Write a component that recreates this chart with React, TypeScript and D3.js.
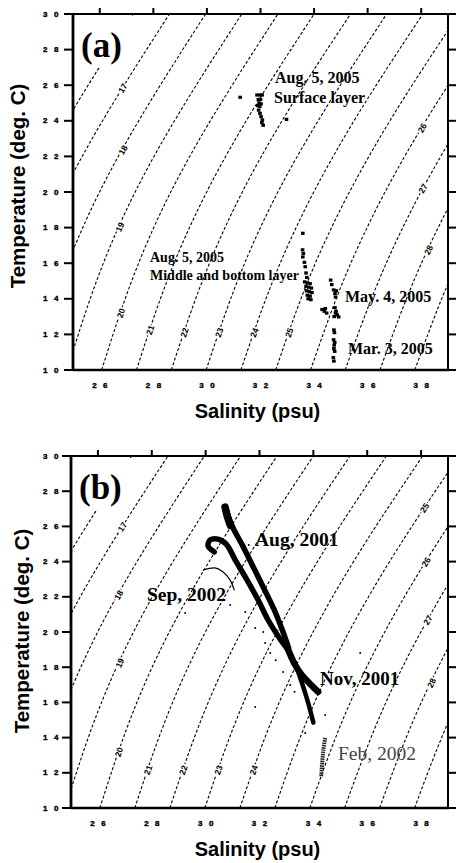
import React from 'react';
import * as d3 from 'd3';

const width = 457;
const height = 863;

const salinityTicks = [26, 28, 30, 32, 34, 36, 38];
const tempTicks = [10, 12, 14, 16, 18, 20, 22, 24, 26, 28, 30];

// sigma-t isopycnals: salinity at these temperatures
const isoTemps = [10, 15, 20, 25, 30];
const isoLevels = [16, 17, 18, 19, 20, 21, 22, 23, 24, 25, 26, 27, 28, 29];
const isoSalinity = [
  [20.88, 21.93, 23.32, 25.16, 27.25],
  [22.18, 23.25, 24.65, 26.5, 28.6],
  [23.48, 24.56, 25.99, 27.85, 29.95],
  [24.78, 25.88, 27.32, 29.19, 31.3],
  [26.07, 27.19, 28.65, 30.53, 32.65],
  [27.37, 28.51, 29.99, 31.87, 34.0],
  [28.67, 29.83, 31.32, 33.21, 35.36],
  [29.97, 31.14, 32.65, 34.56, 36.71],
  [31.27, 32.46, 33.99, 35.9, 38.06],
  [32.57, 33.77, 35.32, 37.24, 39.41],
  [33.87, 35.09, 36.65, 38.58, 40.76],
  [35.16, 36.41, 37.99, 39.93, 42.1],
  [36.46, 37.72, 39.32, 41.27, 43.4],
  [37.76, 39.04, 40.65, 42.6, 44.8],
];

// where the contour numbers sit: [level, temperature]
const isoLabelsA = [[17, 25.84], [18, 22.36], [19, 18.03], [20, 13.2], [21, 12.25], [22, 12.1], [23, 12.1], [24, 12.1], [25, 12.1], [26, 23.6], [27, 20.2], [28, 16.74]];
const isoLabelsB = [[17, 25.97], [18, 22.1], [19, 18.24], [20, 13.18], [21, 12.16], [22, 12.16], [23, 12.16], [24, 12.16], [25, 27.05], [26, 23.98], [27, 20.68], [28, 17.1]];

// panel (a) bottle data [salinity, temperature]
const aug05Surface = [
  [31.24, 25.32], [31.87, 25.45], [31.98, 25.45], [32.06, 25.45], [31.92, 25.2], [32.0, 25.2],
  [31.95, 25.0], [32.02, 24.95], [31.9, 24.85], [31.97, 24.8], [31.93, 24.6], [31.98, 24.42],
  [32.02, 24.23], [32.07, 24.05], [32.05, 23.9], [32.1, 23.75], [32.97, 24.08],
];
const aug05Deep = [
  [33.58, 17.68], [33.57, 16.75], [33.6, 16.55], [33.58, 16.35], [33.64, 16.05], [33.67, 15.8],
  [33.7, 15.45], [33.73, 15.2], [33.65, 14.95], [33.75, 14.9], [33.85, 14.85], [33.7, 14.7],
  [33.8, 14.65], [33.9, 14.6], [33.72, 14.45], [33.82, 14.4], [33.92, 14.35], [33.75, 14.2],
  [33.85, 14.15], [33.78, 14.0], [33.88, 13.95],
];
const may05 = [
  [34.62, 15.05], [34.66, 14.8], [34.73, 14.5], [34.78, 14.3], [34.83, 14.45], [34.8, 14.1],
  [34.3, 13.4], [34.38, 13.3], [34.47, 13.2], [34.42, 13.45], [34.78, 13.5], [34.82, 13.3],
  [34.86, 13.1], [34.92, 12.98], [34.75, 13.0], [34.8, 13.2],
];
const mar05 = [
  [34.74, 12.25], [34.76, 12.1], [34.73, 11.7], [34.77, 11.55], [34.75, 11.4], [34.74, 11.2],
  [34.77, 11.05], [34.72, 10.7], [34.74, 10.5],
];

// panel (b) CTD traces
const aug01 = [[30.76, 27.05], [30.84, 26.59], [31.02, 25.91], [31.36, 24.94], [31.73, 23.81], [32.1, 22.67], [32.55, 21.25], [32.85, 20.1], [33.08, 19.1]];
const aug01Top = [[30.72, 27.1], [30.8, 26.6], [30.92, 26.05]];
const sep02 = [[30.32, 24.55], [30.09, 24.89], [30.17, 25.23], [30.46, 25.28], [30.76, 25.0], [31.1, 24.09], [31.54, 22.95], [31.95, 21.82], [32.32, 20.68], [32.72, 19.7], [33.05, 19.0]];
const sep02Hook = [[29.91, 23.52], [30.35, 23.64], [30.65, 23.41], [30.91, 22.95], [31.06, 22.39]];
const nov01 = [[33.05, 19.05], [33.3, 18.2], [33.55, 17.6], [33.88, 17.05], [34.18, 16.6]];
const nov01Tail = [[33.4, 17.9], [33.62, 16.9], [33.82, 15.9], [34.0, 14.85]];
const feb02 = [[34.44, 13.98], [34.37, 13.3], [34.33, 12.61], [34.29, 11.76]];
const strayB = [
  [31.84, 20.23], [32.14, 20.0], [32.21, 19.38], [32.4, 18.81], [32.88, 17.73], [33.14, 16.99],
  [31.84, 15.74], [34.44, 15.28], [33.7, 14.26], [35.74, 18.81], [29.24, 21.08], [30.91, 21.53],
  [31.47, 21.14], [31.3, 25.0], [31.45, 24.9], [31.6, 24.95], [32.6, 18.4], [33.3, 16.6],
];

const sans = "'Liberation Sans', Arial, sans-serif";
const serif = "'Liberation Serif', 'Times New Roman', serif";

function TSPanel({ id, box, letter, letterY, labels, titleX, titleY, xTitleY, draw }) {
  const x = d3.scaleLinear().domain([25, 39]).range([box.left, box.right]);
  const y = d3.scaleLinear().domain([10, 30]).range([box.bottom, box.top]);
  const curve = d3.line().x((d) => x(d[0])).y((d) => y(d[1])).curve(d3.curveNatural);
  const tickFont = { fontFamily: sans, fontWeight: 900, fontSize: 8, letterSpacing: 6.5, stroke: '#000', strokeWidth: 0.4 };

  return (
    <g>
      <defs>
        <clipPath id={id}>
          <rect x={box.left} y={box.top} width={box.right - box.left} height={box.bottom - box.top} />
        </clipPath>
      </defs>
      <g clipPath={`url(#${id})`}>
        {isoLevels.map((lv, i) => (
          <path key={lv} d={curve(isoTemps.map((t, j) => [isoSalinity[i][j], t]))}
            fill="none" stroke="#000" strokeWidth={1.1} strokeDasharray="3,2" />
        ))}
        {labels.map(([lv, t]) => {
          const i = isoLevels.indexOf(lv);
          const sAt = d3.scaleLinear().domain(isoTemps).range(isoSalinity[i]);
          const px = x(sAt(t));
          const py = y(t);
          const ang = (Math.atan2(y(t + 0.4) - y(t - 0.4), x(sAt(t + 0.4)) - x(sAt(t - 0.4))) * 180) / Math.PI;
          return (
            <text key={lv} transform={`translate(${px},${py}) rotate(${ang})`} textAnchor="middle"
              dominantBaseline="central" fontFamily={sans} fontSize={8.5} fontWeight="bold"
              stroke="#fff" strokeWidth={3} paintOrder="stroke" fill="#000">{lv}</text>
          );
        })}
        {draw(x, y)}
      </g>
      <rect x={box.left + 1} y={box.top + 2} width={59} height={letterY - box.top + 9} fill="#fff" />
      <text x={box.left + 8} y={letterY} fontFamily={serif} fontWeight="bold" fontSize={35}>{letter}</text>

      {/* frame */}
      <line x1={box.left} x2={box.right} y1={box.top} y2={box.top} stroke="#000" strokeWidth={2} />
      <line x1={box.right} x2={box.right} y1={box.top} y2={box.bottom} stroke="#000" strokeWidth={2} />
      <line x1={box.left} x2={box.right + 1} y1={box.bottom} y2={box.bottom} stroke="#000" strokeWidth={2.5} />
      <line x1={box.left} x2={box.left} y1={box.top - 1} y2={box.bottom + 1} stroke="#000" strokeWidth={2.8} />

      {tempTicks.map((t) => (
        <g key={t}>
          <line x1={box.left - 9} x2={box.left} y1={y(t)} y2={y(t)} stroke="#000" strokeWidth={2} />
          <line x1={box.right} x2={box.right + 8} y1={y(t)} y2={y(t)} stroke="#000" strokeWidth={2} />
          <text x={43} y={y(t)} dominantBaseline="central" {...tickFont}>{t}</text>
        </g>
      ))}
      {salinityTicks.map((s) => (
        <g key={s}>
          <line x1={x(s)} x2={x(s)} y1={box.top - 6} y2={box.top} stroke="#000" strokeWidth={2} />
          <text x={x(s)} dx={3.3} y={box.bottom + 15} textAnchor="middle" dominantBaseline="central"
            {...tickFont}>{s}</text>
        </g>
      ))}

      <text transform={`translate(${titleX},${titleY}) rotate(-90)`} textAnchor="middle"
        fontFamily={sans} fontWeight="bold" fontSize={20.5}>Temperature (deg. C)</text>
      <text x={257.5} y={xTitleY} textAnchor="middle" fontFamily={sans} fontWeight="bold"
        fontSize={20}>Salinity (psu)</text>
    </g>
  );
}

export default function App() {
  const boxA = { left: 73, right: 448, top: 14, bottom: 370 };
  const boxB = { left: 71, right: 448, top: 456, bottom: 808 };

  const drawA = (x, y) => {
    const marks = (pts, key) => pts.map((d, i) => (
      <rect key={key + i} x={x(d[0]) - 1.8} y={y(d[1]) - 1.6} width={3.6} height={3.2} fill="#000" />
    ));
    return (
      <g>
        {marks(aug05Surface, 's')}
        {marks(aug05Deep, 'd')}
        {marks(may05, 'm')}
        {marks(mar05, 'r')}
      </g>
    );
  };

  const drawB = (x, y) => {
    const ln = d3.line().x((d) => x(d[0])).y((d) => y(d[1])).curve(d3.curveCatmullRom);
    const band = (pts, w, key) => (
      <path key={key} d={ln(pts)} fill="none" stroke="#000" strokeWidth={w}
        strokeLinecap="round" strokeLinejoin="round" />
    );
    return (
      <g>
        {band(aug01, 5.5, 'aug')}
        {band(aug01Top, 7.5, 'augTop')}
        {band(sep02, 5.5, 'sep')}
        {band(sep02Hook, 1.2, 'hook')}
        {band(nov01, 6.5, 'nov')}
        {band(nov01Tail, 4.5, 'novTail')}
        <path d={ln(feb02)} fill="none" stroke="#222" strokeWidth={4} strokeDasharray="1.5,0.8" />
        {strayB.map((d, i) => (
          <circle key={i} cx={x(d[0])} cy={y(d[1])} r={1} fill="#000" />
        ))}
      </g>
    );
  };

  return (
    <svg width={width} height={height} style={{ position: 'absolute', left: 0, top: 0, background: '#fff' }}>
      <rect width={width} height={height} fill="#fff" />
      <TSPanel id="clipA" box={boxA} letter="(a)" letterY={57} labels={isoLabelsA}
        titleX={25} titleY={186} xTitleY={418} draw={drawA} />
      <TSPanel id="clipB" box={boxB} letter="(b)" letterY={499} labels={isoLabelsB}
        titleX={29} titleY={631} xTitleY={856} draw={drawB} />

      <g fontFamily={serif} fontWeight="bold">
        <text x={275} y={83} fontSize={16}>Aug. 5, 2005</text>
        <text x={274} y={103} fontSize={16}>Surface layer</text>
        <text x={150} y={262} fontSize={14}>Aug. 5, 2005</text>
        <text x={150} y={280} fontSize={14}>Middle and bottom layer</text>
        <text x={345} y={302} fontSize={16}>May. 4, 2005</text>
        <text x={348} y={354} fontSize={16}>Mar. 3, 2005</text>

        <text x={255} y={546} fontSize={19.5}>Aug, 2001</text>
        <text x={147} y={601} fontSize={19.5}>Sep, 2002</text>
        <text x={320} y={685} fontSize={19}>Nov, 2001</text>
        <text x={338} y={760} fontSize={19.5} fontWeight="normal" fill="#444">Feb, 2002</text>
      </g>
    </svg>
  );
}
